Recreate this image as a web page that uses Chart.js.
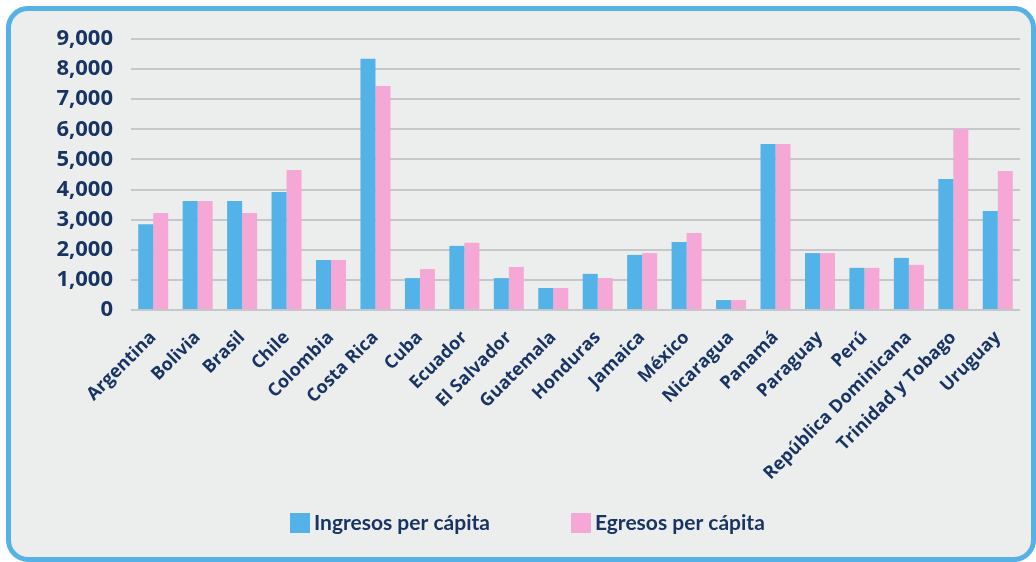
<!DOCTYPE html>
<html>
<head>
<meta charset="utf-8">
<script src="https://cdn.jsdelivr.net/npm/chart.js@4"></script>
<style>
  html, body { margin: 0; padding: 0; background: #ffffff; }
  body { width: 1036px; height: 562px; position: relative; overflow: hidden; }
  #frame {
    position: absolute; left: 6px; top: 6px; width: 1030px; height: 556px;
    box-sizing: border-box; border: 5px solid #55b1e6; border-radius: 22px;
    background: #eceeed;
  }
  #wrap { position: absolute; left: 0; top: 0; width: 1036px; height: 562px; }
</style>
</head>
<body>
<div id="frame"></div>
<div id="wrap"><canvas id="c" width="1036" height="562"></canvas></div>
<script>
const categories = ["Argentina","Bolivia","Brasil","Chile","Colombia","Costa Rica","Cuba","Ecuador","El Salvador","Guatemala","Honduras","Jamaica","México","Nicaragua","Panamá","Paraguay","Perú","República Dominicana","Trinidad y Tobago","Uruguay"];
const ingresos = [2850, 3620, 3620, 3920, 1660, 8340, 1060, 2130, 1060, 730, 1200, 1830, 2260, 330, 5510, 1890, 1400, 1730, 4350, 3290];
const egresos  = [3220, 3620, 3220, 4650, 1660, 7440, 1360, 2230, 1430, 730, 1060, 1890, 2560, 330, 5510, 1890, 1400, 1500, 6010, 4620];
const seriesNames = ["Ingresos per cápita", "Egresos per cápita"];
const yTicks = [0, 1000, 2000, 3000, 4000, 5000, 6000, 7000, 8000, 9000];

const NAVY = '#183464';
const BLUE = '#53b2e7';
const PINK = '#f5a7d6';

const legendPlugin = {
  id: 'customLegend',
  afterDraw(chart) {
    const ctx = chart.ctx;
    const items = [
      { x: 290, label: seriesNames[0], color: BLUE },
      { x: 571, label: seriesNames[1], color: PINK }
    ];
    ctx.save();
    ctx.font = 'bold 21px Lato';
    ctx.textBaseline = 'middle';
    ctx.textAlign = 'left';
    items.forEach(it => {
      ctx.fillStyle = it.color;
      ctx.fillRect(it.x, 513, 20, 20);
      ctx.fillStyle = NAVY;
      ctx.fillText(it.label, it.x + 24, 523);
    });
    ctx.restore();
  }
};

function build() {
  new Chart(document.getElementById('c'), {
    type: 'bar',
    data: {
      labels: categories,
      datasets: [
        { label: seriesNames[0], data: ingresos, backgroundColor: BLUE, borderWidth: 0 },
        { label: seriesNames[1], data: egresos, backgroundColor: PINK, borderWidth: 0 }
      ]
    },
    options: {
      responsive: false,
      animation: false,
      devicePixelRatio: 1,
      layout: { padding: { top: 39, right: 16, left: 0, bottom: 0 } },
      datasets: { bar: { categoryPercentage: 0.675, barPercentage: 1.0 } },
      plugins: {
        legend: { display: false },
        tooltip: { enabled: false }
      },
      scales: {
        x: {
          grid: { display: false, drawTicks: false },
          border: { display: false },
          ticks: {
            autoSkip: false,
            minRotation: 45, maxRotation: 45,
            padding: 17,
            color: NAVY,
            font: { family: '"Open Sans"', weight: 'bold', size: 18 }
          },
          afterFit(scale) { scale.height = 252; }
        },
        y: {
          min: 0, max: 9000,
          afterBuildTicks(scale) { scale.ticks = yTicks.map(v => ({ value: v })); },
          grid: { color: '#c6c7ca', lineWidth: 2, drawTicks: false },
          border: { display: false },
          ticks: {
            padding: 18,
            color: NAVY,
            font: { family: '"Open Sans"', weight: 'bold', size: 22 },
            callback: v => v.toLocaleString('en-US')
          },
          afterFit(scale) { scale.width = 131; }
        }
      }
    },
    plugins: [legendPlugin]
  });
}

Promise.all([
  document.fonts.load('bold 18px "Open Sans"'),
  document.fonts.load('bold 21px Lato')
]).then(build, build);
</script>
</body>
</html>
